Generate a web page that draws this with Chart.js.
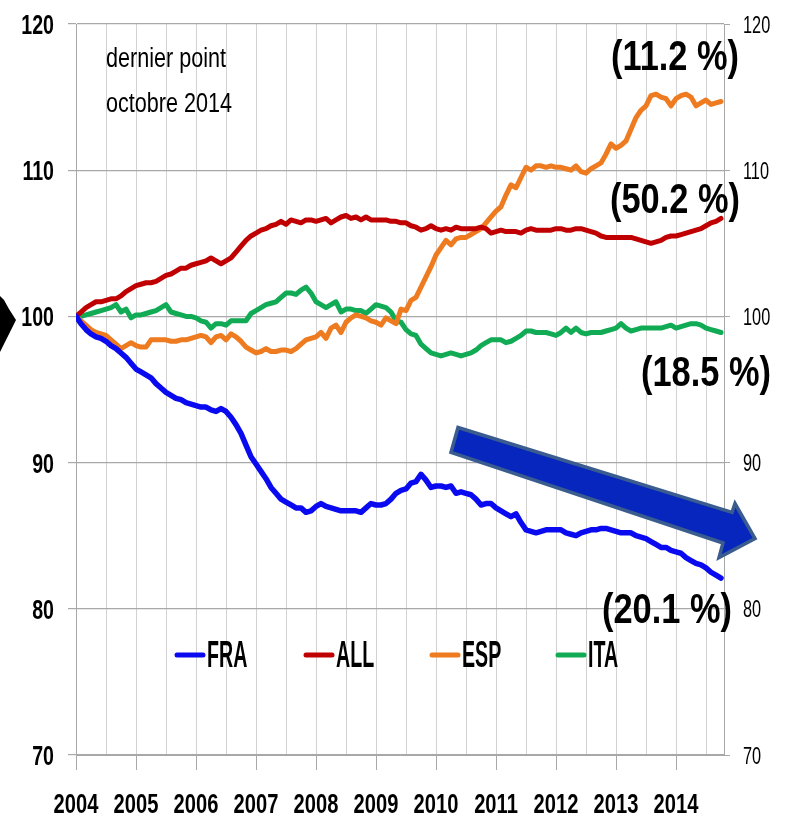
<!DOCTYPE html>
<html>
<head>
<meta charset="utf-8">
<script src="https://cdn.jsdelivr.net/npm/chart.js@4.4.0/dist/chart.umd.min.js"></script>
<style>
  html, body { margin: 0; padding: 0; background: #fff; }
  #wrap { width: 787px; height: 820px; }
</style>
</head>
<body>
<div id="wrap"><canvas id="chart" width="787" height="820"></canvas></div>
<script>
// monthly index, January 2004 = 0 ... October 2014 = 129
const startYear = 2004;
const yearTicks = [2004, 2005, 2006, 2007, 2008, 2009, 2010, 2011, 2012, 2013, 2014];
const yTicks = [70, 80, 90, 100, 110, 120];

const seriesNames = ["FRA", "ALL", "ESP", "ITA"];
const seriesColors = ["#0A0AF0", "#C00000", "#EE7B1F", "#11AA55"];

const fra = [
  100.0, 99.5, 99.1, 98.8, 98.6, 98.5, 98.3, 98.0, 97.8, 97.5, 97.2, 96.8,
  96.4, 96.2, 96.0, 95.8, 95.4, 95.1, 94.8, 94.6, 94.4, 94.3, 94.1, 94.0,
  93.9, 93.8, 93.8, 93.6, 93.5, 93.7, 93.5, 93.1, 92.6, 92.0, 91.2, 90.4,
  89.9, 89.4, 88.9, 88.3, 87.9, 87.5, 87.3, 87.1, 86.9, 86.9, 86.6, 86.7,
  87.0, 87.2, 87.0, 86.9, 86.8, 86.7, 86.7, 86.7, 86.7, 86.6, 86.9, 87.2,
  87.1, 87.1, 87.2, 87.5, 87.9, 88.1, 88.2, 88.6, 88.7, 89.2, 88.8, 88.3,
  88.4, 88.4, 88.3, 88.4, 87.9, 88.0, 87.9, 87.8, 87.5, 87.1, 87.2, 87.2,
  86.9, 86.7, 86.5, 86.3, 86.5, 85.9, 85.4, 85.3, 85.2, 85.3, 85.4, 85.4,
  85.4, 85.4, 85.2, 85.1, 85.0, 85.2, 85.3, 85.4, 85.4, 85.5, 85.5, 85.4,
  85.3, 85.2, 85.2, 85.2, 85.0, 84.9, 84.8, 84.6, 84.4, 84.2, 84.2, 84.0,
  83.9, 83.8, 83.5, 83.3, 83.1, 83.0, 82.8, 82.5, 82.3, 82.1
];

const all = [
  100.0, 100.3, 100.6, 100.8, 101.0, 101.0, 101.1, 101.2, 101.2, 101.4, 101.7, 101.9,
  102.1, 102.2, 102.3, 102.3, 102.4, 102.6, 102.8, 102.9, 103.1, 103.3, 103.3, 103.5,
  103.6, 103.7, 103.8, 104.0, 103.8, 103.6, 103.8, 104.0, 104.4, 104.8, 105.2, 105.5,
  105.7, 105.9, 106.0, 106.2, 106.3, 106.5, 106.3, 106.6, 106.5, 106.4, 106.6, 106.6,
  106.5, 106.6, 106.7, 106.4, 106.6, 106.8, 106.9, 106.7, 106.8, 106.6, 106.8, 106.6,
  106.6, 106.6, 106.6, 106.5, 106.5, 106.4, 106.4, 106.2, 106.1, 105.9, 106.0, 106.2,
  106.0, 105.9, 106.0, 105.9, 106.1, 106.0, 106.0, 106.0, 106.0, 106.1, 106.0, 105.7,
  105.8, 105.9, 105.8, 105.8, 105.8, 105.7, 105.9, 106.0, 105.9, 105.9, 105.9, 105.9,
  106.0, 106.0, 105.9, 105.9, 106.0, 106.0, 105.9, 105.8, 105.7, 105.5, 105.4, 105.4,
  105.4, 105.4, 105.4, 105.4, 105.3, 105.2, 105.1, 105.0, 105.1, 105.2, 105.4, 105.5,
  105.5, 105.6, 105.7, 105.8, 105.9, 106.0, 106.2, 106.4, 106.5, 106.7
];

const esp = [
  100.0, 99.7, 99.4, 99.1, 98.9, 98.8, 98.7, 98.4, 98.1, 97.8, 98.0, 98.2,
  98.0, 97.9, 97.9, 98.4, 98.4, 98.4, 98.4, 98.3, 98.3, 98.4, 98.4, 98.5,
  98.6, 98.7, 98.6, 98.2, 98.6, 98.7, 98.4, 98.8, 98.6, 98.3, 97.9, 97.7,
  97.5, 97.6, 97.8, 97.6, 97.6, 97.7, 97.7, 97.6, 97.8, 98.1, 98.4, 98.5,
  98.6, 98.9, 98.5, 99.2, 99.4, 98.9, 99.6, 99.9, 100.1, 100.0, 99.9, 99.7,
  99.6, 99.4, 99.9, 99.7, 99.5, 100.5, 100.4, 101.1, 101.3, 102.0, 102.7, 103.4,
  104.2, 104.7, 105.2, 104.9, 105.3, 105.4, 105.4, 105.6, 105.8, 106.0, 106.4, 106.8,
  107.2, 107.5, 108.3, 109.0, 108.8, 109.5, 110.2, 110.0, 110.3, 110.3, 110.2, 110.3,
  110.2, 110.2, 110.1, 110.0, 110.3, 109.9, 109.8, 110.1, 110.3, 110.5, 111.1, 111.8,
  111.5, 111.7, 112.0, 112.8, 113.6, 114.1, 114.4, 115.1, 115.2, 115.0, 114.9, 114.4,
  114.9, 115.1, 115.2, 115.0, 114.4, 114.6, 114.8, 114.5, 114.6, 114.7
];

const ita = [
  100.0, 100.0, 100.1, 100.2, 100.3, 100.4, 100.5, 100.6, 100.8, 100.3, 100.5, 99.9,
  100.1, 100.1, 100.2, 100.3, 100.4, 100.6, 100.8, 100.3, 100.2, 100.1, 100.0, 100.0,
  99.9, 99.7, 99.6, 99.2, 99.5, 99.5, 99.4, 99.7, 99.7, 99.7, 99.7, 100.2,
  100.4, 100.6, 100.8, 100.9, 101.0, 101.3, 101.6, 101.6, 101.5, 101.8, 102.0, 101.6,
  101.0, 100.8, 100.6, 100.8, 101.0, 100.3, 100.5, 100.5, 100.4, 100.4, 100.2, 100.5,
  100.8, 100.7, 100.6, 100.3, 99.7, 99.6, 99.1, 98.8, 98.7, 98.1, 97.8, 97.5,
  97.4, 97.3, 97.4, 97.5, 97.4, 97.3, 97.4, 97.5, 97.7, 98.0, 98.2, 98.4,
  98.4, 98.4, 98.2, 98.3, 98.5, 98.7, 99.0, 99.0, 98.9, 98.9, 98.9, 98.8,
  98.7, 98.9, 99.2, 98.9, 99.2, 98.9, 98.8, 98.9, 98.9, 98.9, 99.0, 99.1,
  99.2, 99.5, 99.2, 99.0, 99.1, 99.2, 99.2, 99.2, 99.2, 99.2, 99.3, 99.4,
  99.2, 99.3, 99.4, 99.5, 99.5, 99.4, 99.2, 99.1, 99.0, 98.9
];

// labels written at the end of the lines
const endLabels = ["(20.1 %)", "(50.2 %)", "(11.2 %)", "(18.5 %)"];
const noteLines = ["dernier point", "octobre 2014"];

const FONT = "'Liberation Sans', Arial, sans-serif";
const GRID_H = "#A8A8A8";
const GRID_V = "#D2D2D2";

function toPoints(arr) {
  return arr.map((v, i) => ({ x: i, y: v }));
}

// condensed text: the source uses a narrow font that is not installed here
function narrowText(ctx, text, x, y, size, weight, align, sx) {
  ctx.save();
  ctx.font = weight + " " + size + "px " + FONT;
  ctx.textAlign = align;
  ctx.textBaseline = "alphabetic";
  ctx.fillStyle = "#000";
  ctx.translate(x, y);
  ctx.scale(sx, 1);
  ctx.fillText(text, 0, 0);
  ctx.restore();
}

const seriesData = [fra, all, esp, ita];
const datasets = seriesData.map((d, k) => ({
  label: seriesNames[k],
  data: toPoints(d),
  borderColor: seriesColors[k],
  backgroundColor: seriesColors[k],
  borderWidth: k === 0 ? 5.5 : 5,
  borderJoinStyle: "round",
  borderCapStyle: "round",
  pointRadius: 0,
  tension: 0,
  fill: false
}));

// tick labels, notes, end labels, the blue arrow and the legend
const extras = {
  id: "extras",
  beforeDraw(chart) {
    const ctx = chart.ctx;
    // black shape cut at the left edge
    ctx.save();
    ctx.fillStyle = "#000";
    ctx.beginPath();
    ctx.moveTo(0, 296);
    ctx.lineTo(4, 300);
    ctx.lineTo(9, 309);
    ctx.lineTo(16, 320);
    ctx.lineTo(11, 330);
    ctx.lineTo(5, 342);
    ctx.lineTo(0, 352);
    ctx.closePath();
    ctx.fill();
    ctx.restore();
  },
  afterDraw(chart) {
    const ctx = chart.ctx;
    const xs = chart.scales.x, ys = chart.scales.y, ys2 = chart.scales.y2;

    // axis labels from the scales' own ticks
    ys.ticks.forEach(t => {
      narrowText(ctx, String(t.value), 54, ys.getPixelForValue(t.value) + 10, 28, "bold", "right", 0.7);
    });
    ys2.ticks.forEach(t => {
      narrowText(ctx, String(t.value), 743, ys2.getPixelForValue(t.value) + 8.5, 24, "normal", "left", 0.68);
    });
    xs.ticks.forEach(t => {
      if (t.value % 12 !== 0) return;
      narrowText(ctx, String(startYear + t.value / 12), xs.getPixelForValue(t.value), 813, 28, "bold", "center", 0.72);
    });
  },
  afterDatasetsDraw(chart) {
    const ctx = chart.ctx;
    const xs = chart.scales.x, ys = chart.scales.y;
    ctx.save();

    // note top-left
    narrowText(ctx, noteLines[0], 106, 67, 27, "normal", "left", 0.8);
    narrowText(ctx, noteLines[1], 106, 112, 27, "normal", "left", 0.8);

    // blue arrow, placed in data coordinates
    const P = (m, v) => [xs.getPixelForValue(m), ys.getPixelForValue(v)];
    const pts = [
      P(76.4, 92.4), P(131.2, 86.6), P(131.8, 87.2), P(135.8, 84.8),
      P(128.6, 83.5), P(129.4, 84.5), P(75.0, 90.7)
    ];
    ctx.beginPath();
    pts.forEach((p, i) => (i ? ctx.lineTo(p[0], p[1]) : ctx.moveTo(p[0], p[1])));
    ctx.closePath();
    ctx.fillStyle = "#0726BE";
    ctx.fill();
    ctx.lineWidth = 3.5;
    ctx.lineJoin = "miter";
    ctx.strokeStyle = "#3B5C8E";
    ctx.stroke();

    // end labels
    const labelPos = [[667, 608], [675, 198], [675, 55], [706, 371]];
    endLabels.forEach((t, k) => narrowText(ctx, t, labelPos[k][0], labelPos[k][1] + 15, 43, "bold", "center", 0.8));

    // legend inside the plot
    const legX = [175, 304, 430, 556];
    const legY = 655;
    ctx.lineCap = "round";
    chart.data.datasets.forEach((ds, k) => {
      ctx.strokeStyle = ds.borderColor;
      ctx.lineWidth = 5;
      ctx.beginPath();
      ctx.moveTo(legX[k] + 2, legY);
      ctx.lineTo(legX[k] + 28, legY);
      ctx.stroke();
      narrowText(ctx, ds.label, legX[k] + 32, legY + 12, 37, "bold", "left", 0.53);
    });
    ctx.restore();
  }
};

new Chart(document.getElementById("chart"), {
  type: "line",
  data: { datasets: datasets },
  plugins: [extras],
  options: {
    responsive: false,
    animation: false,
    events: [],
    layout: { padding: { top: 24, left: 0, right: 0, bottom: 0 } },
    plugins: {
      legend: { display: false },
      tooltip: { enabled: false },
      title: { display: false }
    },
    scales: {
      x: {
        type: "linear",
        min: 0,
        max: 129.6,
        afterBuildTicks(scale) {
          const t = [];
          for (let v = 0; v <= 126; v += 6) t.push({ value: v });
          scale.ticks = t;
        },
        afterFit(scale) { scale.height = 65; },
        grid: {
          color: GRID_V,
          lineWidth: 1,
          tickLength: 15,
          tickColor: ctx => (ctx.tick && ctx.tick.value % 12 === 0 ? GRID_H : "rgba(0,0,0,0)")
        },
        border: { color: GRID_H, width: 1 },
        ticks: { display: false }
      },
      y: {
        position: "left",
        min: 70,
        max: 120,
        afterBuildTicks(scale) { scale.ticks = yTicks.map(v => ({ value: v })); },
        afterFit(scale) { scale.width = 76; },
        grid: { color: GRID_H, lineWidth: 1.2, tickLength: 8, tickColor: GRID_H },
        border: { color: GRID_H, width: 1 },
        ticks: { display: false }
      },
      y2: {
        position: "right",
        min: 70,
        max: 120,
        afterBuildTicks(scale) { scale.ticks = yTicks.map(v => ({ value: v })); },
        afterFit(scale) { scale.width = 63; },
        grid: { drawOnChartArea: false, tickLength: 6, tickColor: GRID_H },
        border: { color: GRID_H, width: 1 },
        ticks: { display: false }
      }
    }
  }
});
</script>
</body>
</html>
